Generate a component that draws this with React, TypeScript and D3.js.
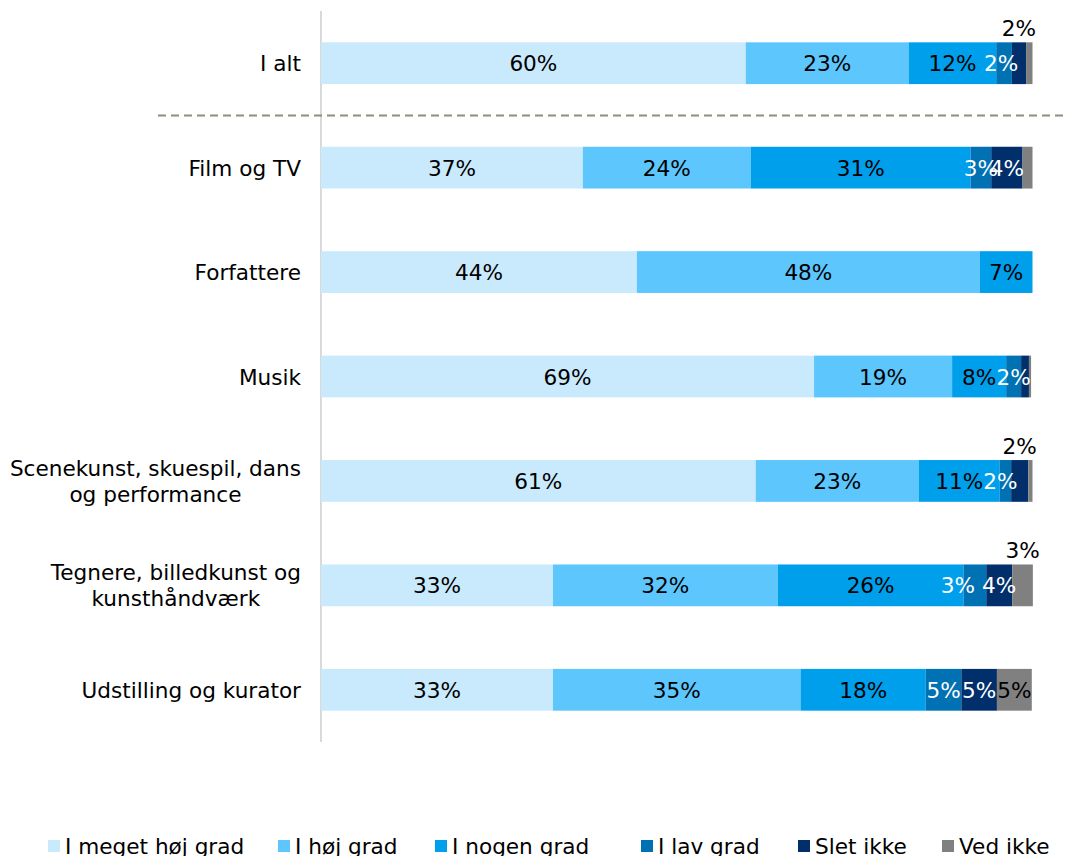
import React, { useEffect, useRef } from "react";
import * as d3 from "d3";

const categories = [
  "I alt",
  "Film og TV",
  "Forfattere",
  "Musik",
  "Scenekunst, skuespil, dans\nog performance",
  "Tegnere, billedkunst og\nkunsthåndværk",
  "Udstilling og kurator",
];

const seriesNames = ["I meget høj grad", "I høj grad", "I nogen grad", "I lav grad", "Slet ikke", "Ved ikke"];

const meget = [59.7, 36.8, 44.4, 69.3, 61.1, 32.6, 32.6];
const hoj = [22.9, 23.6, 48.2, 19.4, 22.9, 31.6, 34.8];
const nogen = [12.3, 30.9, 7.4, 7.6, 11.4, 26.1, 17.6];
const lav = [2.2, 2.9, 0, 2.1, 1.6, 3.2, 5.0];
const slet = [2.0, 4.4, 0, 1.1, 2.4, 3.65, 5.0];
const vedIkke = [0.9, 1.4, 0, 0.3, 0.6, 2.9, 4.9];

const seriesValues = [meget, hoj, nogen, lav, slet, vedIkke];
const colors = ["#C9EAFC", "#5CC6FD", "#009FEC", "#0071B2", "#002F6C", "#808080"];
const labelColors = ["#000", "#000", "#000", "#fff", "#fff", "#000"];

// labels drawn above the bar instead of inside: [category index, series index]
const aboveLabels = [[0, 4], [4, 4], [5, 5]];
// manual label nudges: [category index, series index, dx]
const labelNudges = [[5, 3, -17], [4, 3, -5], [0, 3, -3]];
// legend entry left edges
const legendX = [48, 278, 435, 641, 798, 942];

const W = 1066;
const H = 856;
const FONT = "'DejaVu Sans', Verdana, sans-serif";
const FS = 21.6;

export default function App() {
  const ref = useRef<SVGSVGElement>(null);

  useEffect(() => {
    const svg = d3.select(ref.current);
    svg.selectAll("*").remove();

    const x = d3.scaleLinear().domain([0, 100]).range([321, 1032.5]);
    const y = d3
      .scaleBand<number>()
      .domain(d3.range(categories.length))
      .range([11, 742])
      .paddingInner(0.6)
      .paddingOuter(0.3);

    const bw = y.bandwidth();

    svg
      .append("line")
      .attr("x1", 321)
      .attr("x2", 321)
      .attr("y1", 11)
      .attr("y2", 742)
      .attr("stroke", "#D9D9D9")
      .attr("stroke-width", 2);

    const sepY = (y(0)! + bw + y(1)!) / 2;
    svg
      .append("line")
      .attr("x1", 158)
      .attr("x2", 1066)
      .attr("y1", sepY)
      .attr("y2", sepY)
      .attr("stroke", "#8E8E80")
      .attr("stroke-width", 2)
      .attr("stroke-dasharray", "8,5");

    const isAbove = (ci: number, si: number) => aboveLabels.some((a) => a[0] === ci && a[1] === si);
    const nudge = (ci: number, si: number) => {
      const n = labelNudges.find((a) => a[0] === ci && a[1] === si);
      return n ? n[2] : 0;
    };

    categories.forEach((cat, ci) => {
      let acc = 0;
      const top = y(ci)!;
      seriesValues.forEach((arr, si) => {
        const v = arr[ci];
        const x0 = x(acc);
        const x1 = x(acc + v);
        acc += v;
        if (v <= 0) return;
        svg
          .append("rect")
          .attr("x", x0)
          .attr("y", top)
          .attr("width", x1 - x0)
          .attr("height", bw)
          .attr("fill", colors[si]);
      });
      acc = 0;
      seriesValues.forEach((arr, si) => {
        const v = arr[ci];
        const x0 = x(acc);
        const x1 = x(acc + v);
        acc += v;
        if (v < 1.5) return;
        const above = isAbove(ci, si);
        svg
          .append("text")
          .attr("x", (x0 + x1) / 2 + nudge(ci, si))
          .attr("y", above ? top - 6 : top + bw / 2 + 8)
          .attr("text-anchor", "middle")
          .attr("font-family", FONT)
          .attr("font-size", FS)
          .attr("fill", above ? "#000" : labelColors[si])
          .text(Math.round(v) + "%");
      });

      const lines = cat.split("\n");
      const g = svg.append("g");
      const lh = 26;
      const cy = top + bw / 2;
      const texts = lines.map((ln, li) =>
        g
          .append("text")
          .attr("y", cy + 8 + (li - (lines.length - 1) / 2) * lh)
          .attr("font-family", FONT)
          .attr("font-size", FS)
          .attr("fill", "#000")
          .attr("text-anchor", "middle")
          .text(ln)
      );
      const widths = texts.map((t) => (t.node() as SVGTextElement).getComputedTextLength());
      const maxW = d3.max(widths) || 0;
      texts.forEach((t) => t.attr("x", 301 - maxW / 2));
    });

    seriesNames.forEach((name, si) => {
      const lx = legendX[si];
      svg
        .append("rect")
        .attr("x", lx)
        .attr("y", 840)
        .attr("width", 12)
        .attr("height", 12)
        .attr("fill", colors[si]);
      svg
        .append("text")
        .attr("x", lx + 17)
        .attr("y", 854)
        .attr("font-family", FONT)
        .attr("font-size", FS)
        .attr("fill", "#000")
        .text(name);
    });
  }, []);

  return (
    <svg
      ref={ref}
      width={W}
      height={H}
      style={{ position: "absolute", left: 0, top: 0, background: "#fff" }}
    />
  );
}
